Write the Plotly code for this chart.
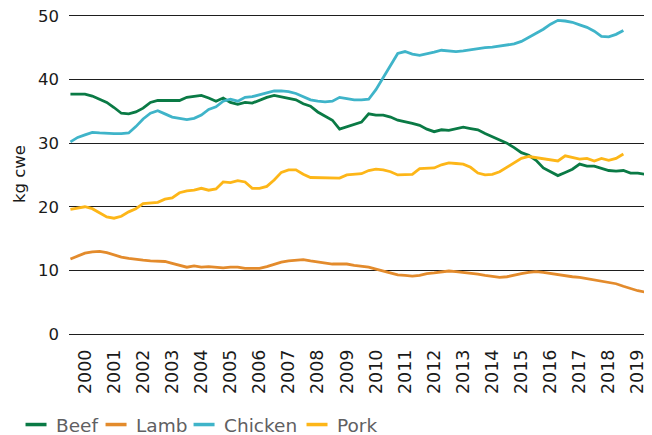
import plotly.graph_objects as go

# Quarterly observations, 2000 Q1 .. 2019 Q4
quarters = [f"{2000 + i // 4}-{3 * (i % 4) + 1:02d}-01" for i in range(80)]
years = list(range(2000, 2020))
year_ticks = [f"{y}-07-01" for y in years]
year_labels = [str(y) for y in years]

beef = [37.7, 37.7, 37.7, 37.4, 36.9, 36.4, 35.6, 34.7, 34.6, 34.9, 35.5, 36.4, 36.7, 36.7,
        36.6, 36.7, 37.2, 37.4, 37.5, 37.1, 36.6, 37.1, 36.4, 36.1, 36.4, 36.3, 36.8,
        37.2, 37.5, 37.3, 37.0, 36.8, 36.2, 35.8, 34.9, 34.3, 33.6, 32.2, 32.6, 32.9,
        33.3, 34.6, 34.4, 34.4, 34.1, 33.6, 33.4, 33.1, 32.8, 32.2, 31.8, 32.1, 32.0,
        32.2, 32.5, 32.3, 32.1, 31.5, 31.0, 30.5, 30.0, 29.3, 28.5, 28.1, 27.3, 26.1,
        25.5, 24.9, 25.4, 25.9, 26.7, 26.4, 26.4, 26.1, 25.7, 25.6, 25.7, 25.3, 25.3, 25.1]

lamb = [11.8, 12.3, 12.7, 12.9, 13.0, 12.8, 12.4, 12.1, 11.9, 11.7, 11.6, 11.5, 11.4, 11.4,
        11.1, 10.8, 10.5, 10.7, 10.5, 10.6, 10.5, 10.4, 10.5, 10.5, 10.3, 10.3, 10.3,
        10.6, 11.0, 11.3, 11.5, 11.6, 11.7, 11.5, 11.3, 11.1, 11.0, 11.0, 11.0, 10.8,
        10.7, 10.5, 10.2, 9.9, 9.6, 9.3, 9.2, 9.1, 9.2, 9.5, 9.6, 9.8, 9.9,
        9.8, 9.7, 9.6, 9.4, 9.2, 9.1, 8.9, 9.0, 9.3, 9.5, 9.7, 9.8, 9.7,
        9.5, 9.3, 9.2, 9.0, 8.9, 8.7, 8.5, 8.4, 8.2, 7.9, 7.5, 7.1, 6.8, 6.6]

chicken = [30.2, 30.9, 31.3, 31.7, 31.6, 31.5, 31.5, 31.5, 31.6, 32.6, 33.8, 34.7, 35.1, 34.6,
           34.1, 33.9, 33.7, 33.9, 34.4, 35.3, 35.7, 36.6, 36.9, 36.6, 37.2, 37.3, 37.6,
           38.0, 38.2, 38.2, 38.1, 37.8, 37.3, 36.8, 36.6, 36.5, 36.6, 37.2, 37.0, 36.8,
           36.8, 36.9, 38.4, 40.3, 42.3, 44.1, 44.4, 44.0, 43.8, 44.0, 44.3, 44.6, 44.5,
           44.4, 44.5, 44.7, 44.9, 45.0, 45.1, 45.3, 45.4, 45.6, 46.0, 46.6, 47.2, 47.9,
           48.7, 49.3, 49.2, 49.0, 48.6, 48.2, 47.6, 46.8, 46.7, 47.1, 47.7]

pork = [19.6, 19.8, 20.0, 19.7, 19.0, 18.4, 18.2, 18.5, 19.2, 19.7, 20.5, 20.6, 20.7, 21.2,
        21.4, 22.2, 22.5, 22.6, 22.9, 22.6, 22.8, 23.9, 23.8, 24.1, 23.9, 22.9, 22.9,
        23.2, 24.2, 25.4, 25.8, 25.8, 25.1, 24.6, 24.6, 24.5, 24.6, 24.5, 25.0, 25.1,
        25.2, 25.7, 25.9, 25.8, 25.5, 25.0, 25.0, 25.1, 26.0, 26.0, 26.1, 26.6, 26.9,
        26.8, 26.7, 26.2, 25.3, 25.0, 25.1, 25.5, 26.2, 26.8, 27.6, 27.9, 27.7, 27.6,
        27.4, 27.2, 28.0, 27.8, 27.5, 27.6, 27.2, 27.6, 27.3, 27.6, 28.3]

series = [("Beef", beef, "#0a7a45"),
          ("Lamb", lamb, "#e38b2c"),
          ("Chicken", chicken, "#3fb4c9"),
          ("Pork", pork, "#fdb618")]
legend_ids = ["legend", "legend2", "legend3", "legend4"]
legend_x = [-0.0915, 0.0467, 0.1987, 0.3938]

fig = go.Figure()
for name, vals, col in series:
    fig.add_trace(go.Scatter(x=quarters[:len(vals)], y=vals, mode="lines", name=name,
                             line=dict(color=col, width=2.8), showlegend=False,
                             hoverinfo="skip"))
for (name, vals, col), lid in zip(series, legend_ids):
    fig.add_trace(go.Scatter(x=[None], y=[None], mode="markers", name=name, legend=lid,
                             marker=dict(symbol="line-ew", size=15, color=col,
                                         line=dict(color=col, width=3.5)),
                             showlegend=True))

legend_style = dict(orientation="h", xanchor="left", y=-0.2844, yanchor="middle",
                    font=dict(family="DejaVu Sans", size=18.5, color="#5f6062"),
                    itemwidth=30, bgcolor="rgba(0,0,0,0)")

# The page body adds an 8px offset, so margins are set to land the plot
# area at the reference position in the photographed window.
fig.update_layout(
    width=652, height=435,
    margin=dict(l=61, r=12, t=6, b=109, autoexpand=False),
    paper_bgcolor="white", plot_bgcolor="white",
    font=dict(family="DejaVu Sans", color="#1a1a1a", size=15),
    xaxis=dict(type="date", range=["1999-12-14", "2019-11-06"],
               tickmode="array", tickvals=year_ticks, ticktext=year_labels,
               tickangle=-90, showgrid=False, zeroline=False, showline=False,
               ticks="", tickfont=dict(size=17.5, color="#1a1a1a"), ticklabelstandoff=11,
               ticklabeloverflow="allow"),
    yaxis=dict(range=[0, 50.3], tickvals=[0, 10, 20, 30, 40, 50], showgrid=True,
               gridcolor="#1e1e1e", gridwidth=1, zeroline=True, zerolinecolor="#1e1e1e",
               zerolinewidth=1, showline=False, ticks="",
               tickfont=dict(size=16.5, color="#1a1a1a"), ticklabelstandoff=9,
               ticklabeloverflow="allow",
               title=dict(text="kg cwe", font=dict(size=16.5, color="#1a1a1a"), standoff=8)),
    legend=dict(x=legend_x[0], **legend_style),
    legend2=dict(x=legend_x[1], **legend_style),
    legend3=dict(x=legend_x[2], **legend_style),
    legend4=dict(x=legend_x[3], **legend_style),
)

fig.write_html("out.html")
